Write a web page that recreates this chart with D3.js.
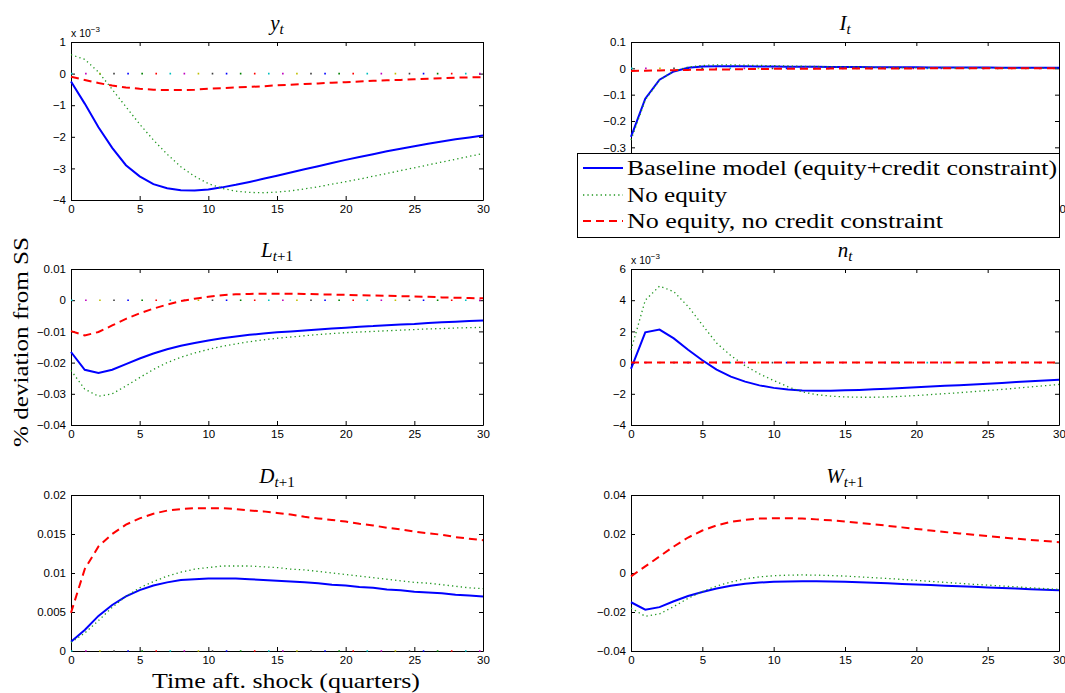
<!DOCTYPE html>
<html>
<head>
<meta charset="utf-8">
<script src="https://cdn.jsdelivr.net/npm/d3@7"></script>
<style>
  html, body { margin: 0; padding: 0; background: #fff; }
  svg { display: block; }
  .tick text { font-family: "Liberation Sans", Arial, sans-serif; font-size: 11.5px; fill: #000; }
  .tick line, .domain { stroke: #000; stroke-width: 1; }
  .serif { font-family: "Liberation Serif", "Times New Roman", serif; fill: #000; }
</style>
</head>
<body>
<svg id="fig" width="1065" height="693"></svg>
<script>
// Impulse responses, quarters 0..30 after the shock (% deviation from steady state)
const quarters = d3.range(0, 31);

// Output y_t (units of 10^-3)
const yBaseline = [-0.25,-0.95,-1.7,-2.35,-2.9,-3.25,-3.5,-3.63,-3.69,-3.7,-3.67,-3.6,-3.52,-3.43,-3.33,-3.23,-3.13,-3.03,-2.93,-2.83,-2.73,-2.64,-2.55,-2.46,-2.38,-2.3,-2.22,-2.15,-2.08,-2.02,-1.96];
const yNoEquity = [0.6,0.45,0.05,-0.5,-1.05,-1.6,-2.1,-2.55,-2.95,-3.25,-3.48,-3.63,-3.72,-3.76,-3.77,-3.75,-3.71,-3.65,-3.58,-3.5,-3.42,-3.34,-3.25,-3.16,-3.07,-2.98,-2.89,-2.8,-2.71,-2.62,-2.53];
const yNoCredit = [-0.1,-0.2,-0.3,-0.38,-0.44,-0.48,-0.51,-0.52,-0.52,-0.51,-0.48,-0.46,-0.44,-0.42,-0.4,-0.37,-0.35,-0.33,-0.31,-0.29,-0.27,-0.25,-0.23,-0.21,-0.2,-0.18,-0.16,-0.15,-0.13,-0.12,-0.11];

// Investment I_t
const iBaseline = [-0.26,-0.115,-0.043,-0.012,0.002,0.007,0.008,0.008,0.008,0.007,0.007,0.006,0.006,0.006,0.005,0.005,0.005,0.004,0.004,0.004,0.004,0.003,0.003,0.003,0.003,0.003,0.002,0.002,0.002,0.002,0.002];
const iNoEquity = [-0.272,-0.12,-0.045,-0.01,0.005,0.011,0.013,0.013,0.012,0.011,0.01,0.009,0.008,0.007,0.006,0.005,0.005,0.004,0.004,0.003,0.003,0.003,0.002,0.002,0.002,0.002,0.001,0.001,0.001,0.001,0.001];
const iNoCredit = [-0.01,-0.009,-0.008,-0.007,-0.006,-0.005,-0.004,-0.004,-0.003,-0.003,-0.002,-0.002,-0.002,-0.002,-0.001,-0.001,-0.001,-0.001,-0.001,-0.001,-0.001,0,0,0,0,0,0,0,0,0,0];

// Loans L_{t+1}
const lBaseline = [-0.0166,-0.0223,-0.0233,-0.0223,-0.0205,-0.0187,-0.0171,-0.0157,-0.0146,-0.0137,-0.0129,-0.0122,-0.0116,-0.0111,-0.0107,-0.0103,-0.01,-0.0097,-0.0094,-0.0091,-0.0088,-0.0085,-0.0083,-0.008,-0.0078,-0.0076,-0.0073,-0.0071,-0.0069,-0.0067,-0.0065];
const lNoEquity = [-0.0225,-0.0285,-0.0308,-0.03,-0.0275,-0.0248,-0.0222,-0.02,-0.0183,-0.0169,-0.0158,-0.0148,-0.014,-0.0133,-0.0127,-0.0122,-0.0118,-0.0114,-0.011,-0.0107,-0.0104,-0.0102,-0.01,-0.0098,-0.0096,-0.0094,-0.0092,-0.0091,-0.0089,-0.0088,-0.0087];
const lNoCredit = [-0.0099,-0.0113,-0.0102,-0.0081,-0.006,-0.0042,-0.0027,-0.0014,-0.0003,0.0005,0.0011,0.0016,0.0019,0.002,0.0021,0.0021,0.0021,0.002,0.0019,0.0018,0.0017,0.0016,0.0015,0.0014,0.0013,0.0012,0.0011,0.0009,0.0008,0.0007,0.0006];

// Net worth n_t (units of 10^-3)
const nBaseline = [-0.4,1.94,2.12,1.55,0.82,0.15,-0.45,-0.9,-1.22,-1.46,-1.62,-1.73,-1.79,-1.81,-1.8,-1.78,-1.75,-1.71,-1.67,-1.63,-1.58,-1.54,-1.49,-1.45,-1.4,-1.35,-1.3,-1.25,-1.2,-1.15,-1.1];
const nNoEquity = [0.8,4.0,4.9,4.55,3.6,2.42,1.25,0.45,-0.2,-0.72,-1.15,-1.55,-1.88,-2.05,-2.15,-2.2,-2.22,-2.22,-2.2,-2.16,-2.11,-2.05,-1.99,-1.93,-1.86,-1.79,-1.72,-1.64,-1.56,-1.48,-1.4];
const nNoCredit = [0,0,0,0,0,0,0,0,0,0,0,0,0,0,0,0,0,0,0,0,0,0,0,0,0,0,0,0,0,0,0];

// Deposits D_{t+1}
const dBaseline = [0.0012,0.0027,0.0045,0.0059,0.007,0.0078,0.0084,0.0088,0.0091,0.0092,0.0093,0.0093,0.0093,0.0092,0.0091,0.009,0.0089,0.0088,0.0087,0.0085,0.0084,0.0082,0.0081,0.0079,0.0078,0.0076,0.0075,0.0074,0.0072,0.0071,0.007];
const dNoEquity = [0.0011,0.0023,0.0039,0.0056,0.007,0.0081,0.0089,0.0096,0.0101,0.0105,0.0107,0.0109,0.0109,0.0109,0.0108,0.0107,0.0105,0.0104,0.0102,0.01,0.0098,0.0096,0.0094,0.0092,0.009,0.0088,0.0087,0.0085,0.0083,0.0081,0.008];
const dNoCredit = [0.0049,0.0105,0.0134,0.015,0.0162,0.017,0.0176,0.018,0.0182,0.0183,0.0183,0.0183,0.0182,0.018,0.0179,0.0177,0.0175,0.0172,0.017,0.0168,0.0166,0.0163,0.0161,0.0158,0.0156,0.0153,0.0151,0.0149,0.0146,0.0144,0.0142];

// Wages W_{t+1}
const wBaseline = [-0.015,-0.0188,-0.0175,-0.0145,-0.0118,-0.0097,-0.0079,-0.0065,-0.0055,-0.0049,-0.0045,-0.0043,-0.0042,-0.0042,-0.0043,-0.0045,-0.0047,-0.005,-0.0053,-0.0056,-0.0059,-0.0062,-0.0065,-0.0068,-0.0071,-0.0074,-0.0077,-0.008,-0.0083,-0.0086,-0.0089];
const wNoEquity = [-0.018,-0.0222,-0.021,-0.0172,-0.013,-0.0095,-0.0067,-0.0046,-0.003,-0.002,-0.0014,-0.0011,-0.001,-0.0011,-0.0013,-0.0016,-0.002,-0.0024,-0.0028,-0.0033,-0.0038,-0.0043,-0.0048,-0.0053,-0.0058,-0.0062,-0.0067,-0.0071,-0.0076,-0.008,-0.0084];
const wNoCredit = [-0.0017,0.0034,0.0085,0.0136,0.0182,0.0218,0.0244,0.0262,0.0273,0.0279,0.0281,0.0281,0.0279,0.0275,0.027,0.0264,0.0257,0.025,0.0242,0.0234,0.0226,0.0218,0.021,0.0203,0.0196,0.0189,0.0182,0.0176,0.017,0.0164,0.0158];

// Axis ticks
const xTicks = [0, 5, 10, 15, 20, 25, 30];
const yTicksY = [-4, -3, -2, -1, 0, 1];
const yTicksI = [-0.5, -0.4, -0.3, -0.2, -0.1, 0, 0.1];
const yTicksL = [-0.04, -0.03, -0.02, -0.01, 0, 0.01];
const yTicksN = [-4, -2, 0, 2, 4, 6];
const yTicksD = [0, 0.005, 0.01, 0.015, 0.02];
const yTicksW = [-0.04, -0.02, 0, 0.02, 0.04];

const seriesNames = ["Baseline model (equity+credit constraint)", "No equity", "No equity, no credit constraint"];

// Line styles for the three model variants
const styles = [
  { color: "#0000ff", width: 2, dash: null },
  { color: "#1f961f", width: 1.3, dash: "1.3,3.1" },
  { color: "#ff0000", width: 2, dash: "8,5" }
];
// Colour order used for the dotted zero reference
const zeroColors = ["#00bfbf", "#bf00bf", "#bfbf00", "#404040", "#0000ff", "#008000", "#ff0000"];

// Layout of the 3x2 grid
const cols = [{ x0: 71, x1: 483 }, { x0: 631, x1: 1059 }];
const rows = [{ y0: 42, y1: 200 }, { y0: 269, y1: 425 }, { y0: 495, y1: 651 }];

// fmt = default labels; the investment panel's lower labels sit under the legend box
const fmt = d => {
  if (Math.abs(d) < 1e-12) return "0";
  return String(+d.toFixed(6)).replace("-", "\u2212");
};
const fmtOnly = keep => d => (keep.includes(d) ? fmt(d) : "");

const panels = [
  { col: 0, row: 0, title: [["y", 1, 0], ["t", 1, 1]], ticks: yTicksY, scaled: true, zero: true, data: [yBaseline, yNoEquity, yNoCredit] },
  { col: 1, row: 0, title: [["I", 1, 0], ["t", 1, 1]], ticks: yTicksI, scaled: false, zero: true, data: [iBaseline, iNoEquity, iNoCredit],
    xFmt: fmtOnly([30]), yFmt: fmtOnly([-0.3, -0.2, -0.1, 0, 0.1]) },
  { col: 0, row: 1, title: [["L", 1, 0], ["t", 1, 1], ["+1", 0, 1]], ticks: yTicksL, scaled: false, zero: true, data: [lBaseline, lNoEquity, lNoCredit] },
  { col: 1, row: 1, title: [["n", 1, 0], ["t", 1, 1]], ticks: yTicksN, scaled: true, zero: true, data: [nBaseline, nNoEquity, nNoCredit] },
  { col: 0, row: 2, title: [["D", 1, 0], ["t", 1, 1], ["+1", 0, 1]], ticks: yTicksD, scaled: false, zero: true, data: [dBaseline, dNoEquity, dNoCredit] },
  { col: 1, row: 2, title: [["W", 1, 0], ["t", 1, 1], ["+1", 0, 1]], ticks: yTicksW, scaled: false, zero: false, data: [wBaseline, wNoEquity, wNoCredit] }
];

const svg = d3.select("#fig");

panels.forEach(p => {
  const c = cols[p.col], r = rows[p.row];
  const x = d3.scaleLinear().domain([0, 30]).range([c.x0, c.x1]);
  const y = d3.scaleLinear().domain(d3.extent(p.ticks)).range([r.y1, r.y0]);
  const g = svg.append("g");

  // axes with inward ticks on all four sides
  g.append("g").attr("transform", `translate(0,${r.y1})`)
    .call(d3.axisBottom(x).tickValues(xTicks).tickFormat(p.xFmt || fmt).tickSize(-4).tickSizeOuter(0).tickPadding(5));
  g.append("g").attr("transform", `translate(0,${r.y0})`)
    .call(d3.axisTop(x).tickValues(xTicks).tickFormat("").tickSize(-4).tickSizeOuter(0));
  g.append("g").attr("transform", `translate(${c.x0},0)`)
    .call(d3.axisLeft(y).tickValues(p.ticks).tickFormat(p.yFmt || fmt).tickSize(-4).tickSizeOuter(0).tickPadding(5));
  g.append("g").attr("transform", `translate(${c.x1},0)`)
    .call(d3.axisRight(y).tickValues(p.ticks).tickFormat("").tickSize(-4).tickSizeOuter(0));

  // multiplier label for panels plotted in units of 10^-3
  if (p.scaled) {
    const t = g.append("text").attr("x", c.x0).attr("y", r.y0 - 5)
      .attr("font-family", "Liberation Sans, Arial, sans-serif").attr("font-size", 10.5);
    t.append("tspan").text("x 10");
    t.append("tspan").attr("dy", -5).attr("font-size", 8).text("\u22123");
  }

  // dotted zero reference in the cycling colour order
  if (p.zero) {
    const step = 14.07;
    zeroColors.forEach((col, k) => {
      g.append("line")
        .attr("x1", c.x0).attr("x2", c.x1).attr("y1", y(0)).attr("y2", y(0))
        .attr("stroke", col).attr("stroke-width", 1.6)
        .attr("stroke-dasharray", `1.6,${(step * 7 - 1.6).toFixed(2)}`)
        .attr("stroke-dashoffset", -k * step);
    });
  }

  // response paths
  const line = d3.line().x((d, i) => x(quarters[i])).y(d => y(d));
  p.data.forEach((vals, s) => {
    const st = styles[s];
    g.append("path").datum(vals)
      .attr("d", line).attr("fill", "none")
      .attr("stroke", st.color).attr("stroke-width", st.width)
      .attr("stroke-dasharray", st.dash);
  });

  // panel title
  const tt = g.append("text").attr("class", "serif")
    .attr("x", (c.x0 + c.x1) / 2).attr("y", r.y0 - 12)
    .attr("text-anchor", "middle").attr("font-size", 21);
  let sub = false;
  p.title.forEach(([txt, it, isSub]) => {
    const ts = tt.append("tspan").text(txt)
      .attr("font-style", it ? "italic" : "normal");
    if (isSub) {
      ts.attr("font-size", 15);
      if (!sub) ts.attr("dy", 4);
      sub = true;
    }
  });
});

// shared axis labels
svg.append("text").attr("class", "serif")
  .attr("transform", "translate(28,342) rotate(-90)")
  .attr("text-anchor", "middle").attr("font-size", 22)
  .attr("textLength", 210).attr("lengthAdjust", "spacingAndGlyphs")
  .text("% deviation from SS");

svg.append("text").attr("class", "serif")
  .attr("x", 152).attr("y", 688)
  .attr("font-size", 21)
  .attr("textLength", 268).attr("lengthAdjust", "spacingAndGlyphs")
  .text("Time aft. shock (quarters)");

// legend box over the investment panel
const leg = svg.append("g");
leg.append("rect").attr("x", 577.5).attr("y", 153.5).attr("width", 482).attr("height", 84)
  .attr("fill", "#fff").attr("stroke", "#000").attr("stroke-width", 1);
const legY = [168, 195, 221];
const legLen = [430, 100, 316];
seriesNames.forEach((name, i) => {
  const st = styles[i];
  leg.append("line").attr("x1", 583).attr("x2", 623).attr("y1", legY[i]).attr("y2", legY[i])
    .attr("stroke", st.color).attr("stroke-width", st.width).attr("stroke-dasharray", st.dash);
  leg.append("text").attr("class", "serif")
    .attr("x", 627).attr("y", legY[i] + 7).attr("font-size", 21)
    .attr("textLength", legLen[i]).attr("lengthAdjust", "spacingAndGlyphs")
    .text(name);
});
</script>
</body>
</html>
